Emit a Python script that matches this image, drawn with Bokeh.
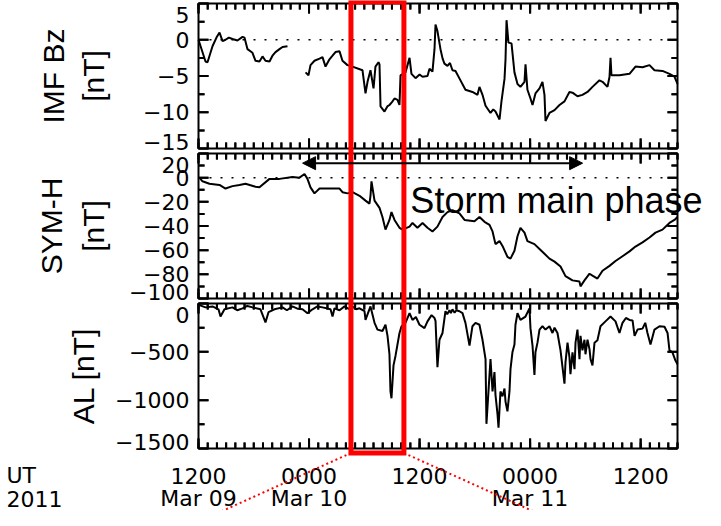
import math
from bokeh.plotting import figure
from bokeh.models import Range1d, Arrow, NormalHead
from bokeh.core.properties import value
from bokeh.embed import file_html
from bokeh.resources import INLINE

NAN = float("nan")

# ---------------- data (time in hours after 2011-03-09 12:00 UT) ----------------
bz_t = [0.0, 0.76, 0.98, 1.52, 1.95, 2.28, 2.61, 2.93, 3.3, 3.69, 4.23, 4.78, 4.99, 5.32, 5.86, 6.19,
        6.62, 6.95, 7.27, 7.71, 8.03, 8.36, 8.79, 9.12, 9.66, 10.6,
        11.62, 11.94, 12.16, 12.59, 13.14, 13.46, 13.79, 14.22, 14.55, 14.87, 15.31, 15.63, 16.17,
        16.72, 17.8, 18.13, 18.35, 18.67, 19.0, 19.21, 19.54, 19.65, 19.76, 20.19, 20.5, 20.73, 21.0,
        21.28, 21.6, 21.82, 21.93, 22.47, 22.91, 23.12, 23.56, 24.0, 24.32, 24.86, 25.08, 25.4, 25.62,
        25.73, 25.94, 26.27, 26.5, 26.7, 27.03, 27.3, 27.57, 27.9, 28.44, 28.98, 29.74, 30.29, 30.5,
        30.83, 31.16, 31.7, 32.0, 32.24, 32.68, 32.89, 33.22, 33.33, 33.44, 33.65, 33.98, 34.3, 34.63,
        34.95, 35.39, 35.5, 35.71, 36.04, 36.26, 36.58, 37.02, 37.34, 37.56, 37.67, 38.1, 38.65,
        39.19, 39.73, 40.27, 40.6, 41.14, 41.68, 42.23, 42.77, 43.53, 43.86, 44.4, 44.62, 44.73,
        44.83, 45.7, 46.79, 47.44, 48.2, 48.96, 49.5, 50.37, 51.13, 51.67, 52.0]
bz_v = [0.0, -3.0, -3.1, -0.9, 0.3, 1.0, -0.2, 0.0, 0.3, 0.1, -0.1, 0.4, 0.3, -1.3, -1.8, -2.9,
        -3.0, -2.3, -2.9, -3.0, -2.2, -1.7, -1.3, -1.0, -0.9, NAN,
        -4.5, -4.9, -3.5, -2.9, -2.6, -2.4, -3.7, -2.7, -2.2, -1.7, -1.6, -2.9, -3.5,
        -3.7, -4.2, -7.4, -5.8, -4.2, -6.7, -3.7, -3.1, -3.4, -9.2, -9.9, -9.2, -9.0, -8.6,
        -8.1, -8.3, -9.0, -4.9, -4.5, -2.5, -4.7, -5.3, -4.8, -5.1, -5.0, -4.0, -4.4, -1.3,
        2.1, 1.2, -1.3, -2.6, -3.3, -3.6, -3.2, -4.2, -4.3, -5.6, -6.9, -7.2, -7.6, -6.5,
        -7.6, -9.1, -10.1, -9.6, -9.9, -11.0, -8.5, -5.4, -2.7, 2.7, -0.4, -0.5, -4.5, -6.1,
        -6.5, -5.8, -3.4, -6.9, -8.1, -9.0, -7.4, -6.7, -5.8, -7.6, -11.2, -10.1, -9.7,
        -9.0, -8.5, -7.2, -7.3, -7.8, -7.6, -7.2, -6.5, -5.6, -5.8, -6.5, -5.1, -2.5,
        -4.9, -4.9, -4.7, -3.7, -3.8, -3.5, -4.2, -4.3, -4.7, -5.1, -6.1]

symh_t = [0.1, 0.43, 1.19, 2.28, 2.93, 3.69, 4.45, 5.1, 6.19, 6.62, 7.71, 8.79, 10.2, 10.96,
          11.51, 11.83, 12.16, 12.59, 13.14, 14.22, 15.31, 15.63, 16.17, 16.72, 17.48, 18.13,
          18.56, 18.67, 18.78, 19.11, 19.65, 19.97, 20.3, 20.73, 20.95, 21.28, 21.82, 22.15,
          22.91, 23.23, 23.77, 24.32, 24.86, 25.4, 25.94, 26.49, 27.03, 27.57, 28.33, 28.88,
          29.96, 30.5, 31.05, 31.59, 31.92, 32.24, 32.68, 33.0, 33.54, 33.87, 34.3, 34.63,
          34.95, 35.39, 35.71, 36.47, 37.02, 37.56, 38.1, 38.65, 39.3, 39.84, 40.6, 41.36,
          41.47, 41.9, 42.45, 42.77, 43.31, 43.86, 44.62, 45.27, 46.03, 46.79, 47.44, 48.2,
          48.96, 49.61, 50.37, 51.13, 51.67, 52.0]
symh_v = [0, -3, -5, -6, -9, -7, -6, -5, -7.5, -8, -1, -1, 0.5, 0,
          3, -1, -8, -13, -9, -9, -9, -12, -13, -12, -15, -19,
          -21.5, -15, -3, -19, -25, -32.5, -43, -35, -28.5, -35, -41.5, -43,
          -40.5, -37.5, -41.5, -37.5, -41.5, -44.5, -40.5, -32.5, -28.5, -27, -29.5, -35,
          -36, -32.5, -36.5, -39, -44.5, -55, -52.5, -56.5, -65.5, -67, -60.5, -48.5,
          -41.5, -45.5, -52.5, -55, -59, -63, -67, -69.5, -73.5, -81.5, -85, -86,
          -90, -85, -79.5, -81, -83.5, -77, -73, -69, -65, -61, -57, -53.5,
          -49.5, -45.5, -43, -37.5, -35, -32.5]

al_t = [0.1, 0.76, 1.52, 2.17, 2.39, 2.82, 3.69, 4.2, 4.78, 5.3, 5.86, 6.73, 7.27, 7.6, 8.25, 9.12,
        9.6, 10.2, 10.8, 11.29, 11.83, 12.38, 12.9, 13.46, 14.33, 14.55, 14.76, 15.31, 15.85, 16.3,
        16.72, 17.1, 17.48, 18.02, 18.13, 18.67, 19.11, 19.43, 19.97, 20.3, 20.52, 20.73, 20.84,
        20.95, 21.17, 21.39, 21.82, 22.04, 22.47, 22.91, 23.23, 23.6, 23.99, 24.53, 24.86, 25.3,
        25.62, 25.73, 25.94, 26.16, 26.49, 26.81, 27.0, 27.25, 27.4, 27.57, 27.8, 28.0, 28.33,
        28.66, 28.98, 29.42, 29.74, 30.07, 30.5, 30.83, 31.16, 31.26, 31.59, 31.7, 31.92, 32.13,
        32.24, 32.46, 32.57, 32.78, 33.0, 33.22, 33.33, 33.54, 33.76, 33.87, 34.08, 34.3, 34.41,
        34.63, 34.95, 35.5, 35.93, 36.04, 36.26, 36.47, 36.58, 36.8, 37.02, 37.34, 37.67, 38.1,
        38.43, 38.65, 38.97, 39.3, 39.73, 39.84, 40.06, 40.27, 40.38, 40.6, 40.82, 40.93, 41.14,
        41.36, 41.47, 41.68, 41.9, 42.01, 42.23, 42.45, 42.56, 42.77, 42.99, 43.31, 43.64, 44.18,
        44.73, 45.27, 45.7, 46.03, 46.4, 46.79, 47.12, 47.34, 47.66, 48.2, 48.5, 48.74, 49.07,
        49.5, 50.05, 50.59, 50.92, 51.13, 51.45, 51.78, 52.0]
al_v = [-17, -40, -30, -60, -135, -60, -40, -70, -50, -25, -40, -60, -195, -90, -60, -40,
        -70, -30, -55, -60, -100, -60, -30, -40, -60, -135, -50, -70, -30, -55,
        -30, -60, -50, -80, -170, -30, -200, -270, -285, -220, -335, -525, -910,
        -980, -640, -540, -305, -235, -200, -100, -170, -140, -220, -255, -185, -120,
        -150, -180, -660, -375, -305, -80, -110, -70, -100, -60, -95, -70, -80,
        -100, -200, -435, -235, -200, -220, -375, -575, -1245, -740, -575, -910, -710,
        -945, -1145, -1285, -910, -960, -880, -1015, -1115, -910, -680, -505, -425, -220,
        -100, -170, -135, -50, -255, -435, -740, -505, -405, -270, -235, -270, -235,
        -305, -250, -305, -485, -830, -610, -405, -555, -730, -505, -680, -405, -270,
        -575, -335, -485, -375, -525, -375, -475, -575, -640, -405, -380, -235, -185,
        -135, -185, -305, -200, -150, -170, -175, -335, -270, -260, -200, -305, -425,
        -270, -235, -240, -305, -485, -505, -590, -630]

# ticks and tick labels
x_major = [0, 12, 24, 36, 48]
x_minor = list(range(0, 53))
x_row1 = ["1200", "0000", "1200", "0000", "1200"]
x_row2 = ["Mar 09", "Mar 10", "", "Mar 11", ""]
year_rows = ["UT", "2011"]

bz_ticks = [5, 0, -5, -10, -15]
bz_minor = [2.5, -2.5, -7.5, -12.5]
bz_labels = ["5", "0", "\u22125", "\u221210", "\u221215"]

symh_ticks = [20, 0, -20, -40, -60, -80, -100]
symh_minor = [10, -10, -30, -50, -70, -90]
symh_labels = ["20", "0", "\u221220", "\u221240", "\u221260", "\u221280", "\u2212100"]

al_ticks = [0, -500, -1000, -1500]
al_minor = [-250, -750, -1250]
al_labels = ["0", "\u2212500", "\u22121000", "\u22121500"]

highlight = (16.55, 22.3)      # red box (hours)
main_phase = (11.3, 41.7)      # storm main phase arrow (hours)
arrow_level = 12               # nT on the SYM-H axis
phase_text_pos = (23.0, -18.8)

# ---------------- layout ----------------
W, H = 705, 510
PL, PR = 198, 677            # panel left / right edge on the canvas
X0, X1 = 0, 52
panels = {
    "default": dict(top=5, bot=-15, top_px=3, bot_px=148),
    "symh": dict(top=20, bot=-100, top_px=153, bot_px=298),
    "al": dict(top=0, bot=-1500, top_px=303, bot_px=448),
}
TICK_FONT = "DejaVu Sans"
LAB_FONT = "Liberation Sans"
RED = "#ff0000"
MAJ, MIN = 10, 6              # tick lengths (px)


def ppu(pn):
    return (pn["bot_px"] - pn["top_px"]) / (pn["top"] - pn["bot"])


def val_at(pn, cy):
    return pn["top"] - (cy - pn["top_px"]) / ppu(pn)


pxh = (PR - PL) / (X1 - X0)
x_range = Range1d(X0 - PL / pxh, X1 + (W - PR) / pxh)
yr = {k: Range1d(val_at(pn, H), val_at(pn, 0)) for k, pn in panels.items()}

p = figure(width=W, height=H, x_range=x_range, y_range=yr["default"],
           extra_y_ranges={"symh": yr["symh"], "al": yr["al"]},
           output_backend="svg", toolbar_location=None, title=None,
           x_axis_location=None, y_axis_location=None, min_border=0)
p.grid.visible = False
p.outline_line_color = None
p.background_fill_color = "white"
p.border_fill_color = "white"


def tick_path(rn, yt, ym):
    """One broken polyline holding every inward tick mark of a panel."""
    pn = panels[rn]
    top, bot = float(pn["top"]), float(pn["bot"])
    xs, ys = [], []
    for ticks, ln in ((yt, MAJ), (ym, MIN)):
        d = ln / pxh
        for tv in ticks:
            tv = float(tv)
            xs += [float(X0), X0 + d, NAN, float(X1), X1 - d, NAN]
            ys += [tv, tv, NAN, tv, tv, NAN]
    for ticks, ln in ((x_minor, MIN), (x_major, MAJ)):
        d = ln / ppu(pn)
        for tv in ticks:
            tv = float(tv)
            xs += [tv, tv, NAN, tv, tv, NAN]
            ys += [top, top - d, NAN, bot, bot + d, NAN]
    return xs, ys


def tick_markers(rn, yt, ym):
    """Centres, lengths and angles of the same tick marks, as dash markers."""
    pn = panels[rn]
    top, bot = float(pn["top"]), float(pn["bot"])
    mx, my, ms, ma = [], [], [], []
    for ticks, ln in ((yt, MAJ), (ym, MIN)):
        d = ln / pxh / 2
        for tv in ticks:
            mx += [X0 + d, X1 - d]; my += [float(tv), float(tv)]
            ms += [ln, ln]; ma += [0.0, 0.0]
    for ticks, ln in ((x_minor, MIN), (x_major, MAJ)):
        d = ln / ppu(pn) / 2
        for tv in ticks:
            mx += [float(tv), float(tv)]; my += [top - d, bot + d]
            ms += [ln, ln]; ma += [math.pi / 2, math.pi / 2]
    return mx, my, ms, ma


def draw_panel(rn, yt, ym, ylabels, t, v, zero_line):
    pn = panels[rn]
    top, bot = pn["top"], pn["bot"]
    kw = dict(y_range_name=rn)
    if zero_line:
        p.line([X0, X1], [0, 0], line_color="black", line_width=1.5, line_dash="2 9", **kw)
    p.line(t, v, line_color="black", line_width=2, **kw)
    tx, ty = tick_path(rn, yt, ym)
    p.line(tx, ty, line_color="black", line_width=2, **kw)
    mx, my, ms, ma = tick_markers(rn, yt, ym)
    p.scatter(x=mx, y=my, size=ms, angle=ma, marker="dash", line_color="black",
              line_width=2, fill_color=None, **kw)
    p.quad(left=X0, right=X1, top=top, bottom=bot, fill_color=None, fill_alpha=0,
           line_color="black", line_width=2, **kw)
    n = len(yt)
    offs = [11] + [0] * (n - 2) + [-7]
    p.text(x=[X0] * n, y=yt, text=ylabels, x_offset=-9, y_offset=offs,
           text_align="right", text_baseline="middle", text_color="black",
           text_font=value(TICK_FONT), text_font_size="22px", **kw)


draw_panel("default", bz_ticks, bz_minor, bz_labels, bz_t, bz_v, True)
draw_panel("symh", symh_ticks, symh_minor, symh_labels, symh_t, symh_v, True)
draw_panel("al", al_ticks, al_minor, al_labels, al_t, al_v, False)

# y-axis titles
title_kw = dict(angle=math.pi / 2, text_align="center", text_baseline="middle",
                text_color="black", text_font=value(LAB_FONT), text_font_size="30px")
mid = {k: (pn["top"] + pn["bot"]) / 2 for k, pn in panels.items()}
p.text(x=[X0, X0], y=[mid["default"]] * 2, text=["IMF Bz", "[nT]"], x_offset=[-145, -105], **title_kw)
p.text(x=[X0, X0], y=[mid["symh"]] * 2, text=["SYM-H", "[nT]"], x_offset=[-147, -105],
       y_range_name="symh", **title_kw)
p.text(x=[X0], y=[mid["al"]], text=["AL [nT]"], x_offset=-115, y_range_name="al", **title_kw)

# time labels below the bottom panel
al_bot = panels["al"]["bot"]
lab_kw = dict(text_baseline="middle", text_color="black", text_font=value(TICK_FONT),
              text_font_size="22px", y_range_name="al")
p.text(x=x_major, y=[al_bot] * len(x_major), text=x_row1, y_offset=27, text_align="center", **lab_kw)
r2x = [xv for xv, s in zip(x_major, x_row2) if s]
r2t = [s for s in x_row2 if s]
p.text(x=r2x, y=[al_bot] * len(r2x), text=r2t, y_offset=50, text_align="center", **lab_kw)
p.text(x=[X0, X0], y=[al_bot, al_bot], text=year_rows, x_offset=-192, y_offset=[27, 50],
       text_align="left", **lab_kw)

# storm main phase arrow + text
p.add_layout(Arrow(x_start=main_phase[0], y_start=arrow_level, x_end=main_phase[1], y_end=arrow_level,
                   start=NormalHead(size=13, fill_color="black", line_color="black"),
                   end=NormalHead(size=13, fill_color="black", line_color="black"),
                   line_color="black", line_width=2, y_range_name="symh"))
p.text(x=[phase_text_pos[0]], y=[phase_text_pos[1]], text=["Storm main phase"],
       text_align="left", text_baseline="alphabetic", text_color="black",
       text_font=value(LAB_FONT), text_font_size="36px", y_range_name="symh")

# red highlight box spanning the three panels, with dotted guide lines
al = panels["al"]
box_top = val_at(al, panels["default"]["top_px"] - 1.5)
box_bot = val_at(al, al["bot_px"] + 4.5)
p.quad(left=highlight[0], right=highlight[1], top=box_top, bottom=box_bot, fill_color=None,
       fill_alpha=0, line_color=RED, line_width=5, line_join="miter", y_range_name="al")
dx = 142 / pxh
dy = 64 / ppu(al)
p.segment(x0=[highlight[0], highlight[1]], y0=[box_bot, box_bot],
          x1=[highlight[0] - dx, highlight[1] + dx], y1=[box_bot - dy, box_bot - dy],
          line_color=RED, line_width=2, line_dash="2 3", y_range_name="al")

open("out.html", "w").write(file_html(p, INLINE))
